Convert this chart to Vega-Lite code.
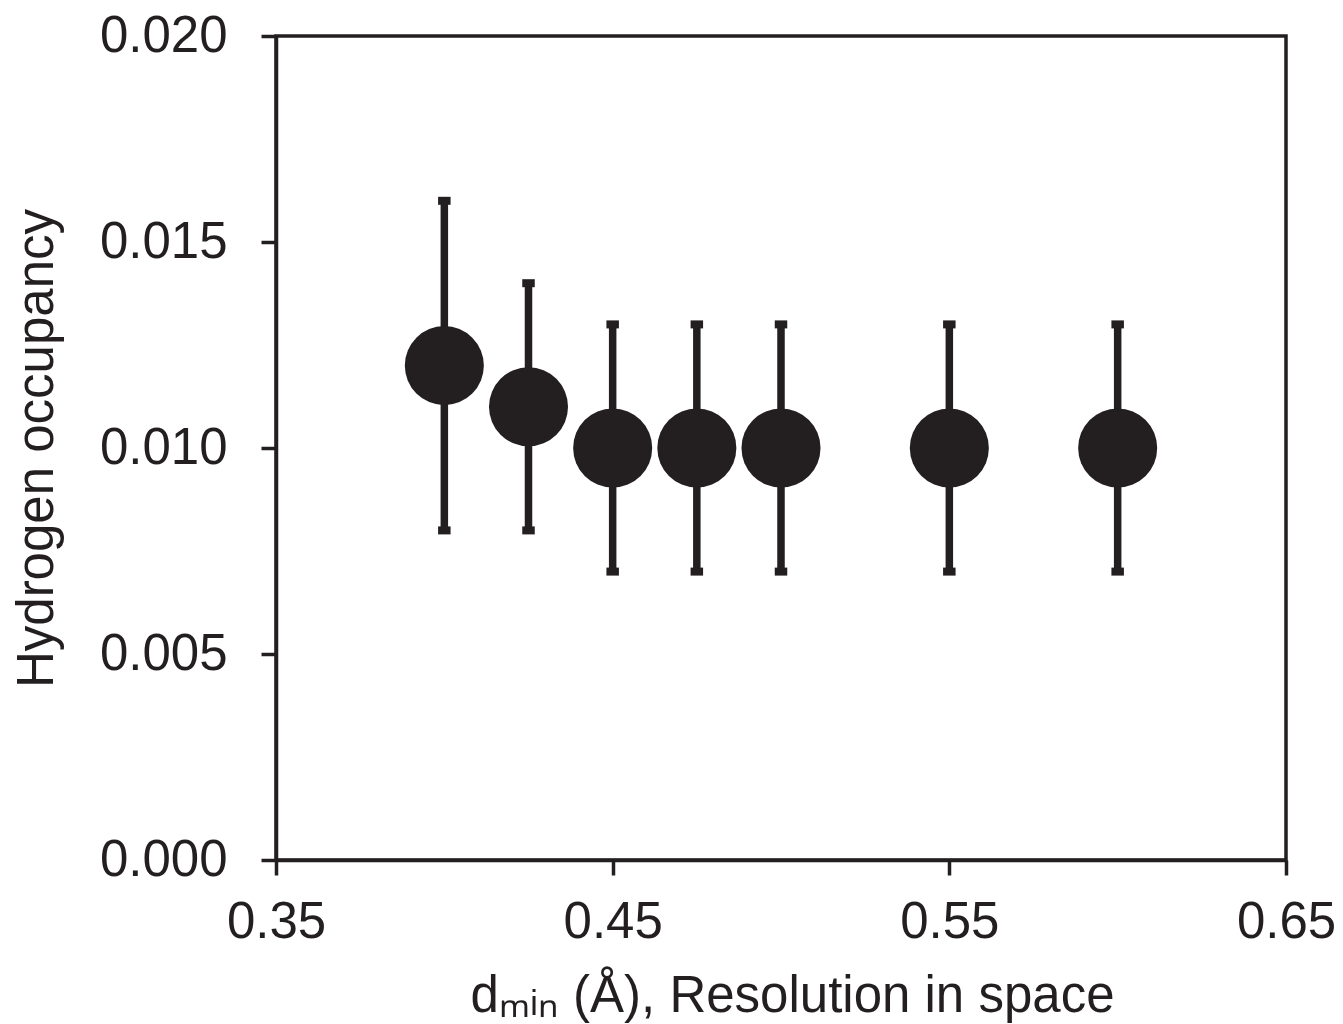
{
  "$schema": "https://vega.github.io/schema/vega-lite/v6.json",
  "autosize": "none",
  "width": 1010,
  "height": 824,
  "padding": {"left": 276, "top": 36, "right": 57, "bottom": 164},
  "background": "white",
  "config": {
    "view": {"stroke": "#231f20", "strokeWidth": 3.5},
    "font": "Liberation Sans",
    "axis": {
      "domainColor": "#231f20",
      "domainWidth": 3.5,
      "tickColor": "#231f20",
      "tickWidth": 3.5,
      "tickSize": 15,
      "grid": false,
      "labelFlush": false,
      "labelOverlap": false,
      "labelFont": "Liberation Sans",
      "labelFontSize": 51,
      "labelColor": "#231f20",
      "titleFont": "Liberation Sans",
      "titleFontSize": 51,
      "titleFontWeight": "normal",
      "titleColor": "#231f20"
    }
  },
  "data": {
    "values": [
      {"d": 0.40, "occ": 0.012, "lo": 0.008, "hi": 0.016},
      {"d": 0.425, "occ": 0.011, "lo": 0.008, "hi": 0.014},
      {"d": 0.45, "occ": 0.010, "lo": 0.007, "hi": 0.013},
      {"d": 0.475, "occ": 0.010, "lo": 0.007, "hi": 0.013},
      {"d": 0.50, "occ": 0.010, "lo": 0.007, "hi": 0.013},
      {"d": 0.55, "occ": 0.010, "lo": 0.007, "hi": 0.013},
      {"d": 0.60, "occ": 0.010, "lo": 0.007, "hi": 0.013}
    ]
  },
  "layer": [
    {
      "mark": {"type": "rule", "color": "#231f20", "strokeWidth": 7.5},
      "encoding": {
        "x": {
          "field": "d", "type": "quantitative",
          "scale": {"domain": [0.35, 0.65], "nice": false, "zero": false},
          "axis": {
            "values": [0.35, 0.45, 0.55, 0.65],
            "format": ".2f",
            "labelPadding": 22,
            "title": "dₘᵢₙ (Å), Resolution in space",
            "titlePadding": 24,
            "titleX": 516
          }
        },
        "y": {
          "field": "lo", "type": "quantitative",
          "scale": {"domain": [0, 0.02], "nice": false, "zero": true},
          "axis": {
            "values": [0, 0.005, 0.01, 0.015, 0.02],
            "format": ".3f",
            "labelPadding": 34,
            "title": "Hydrogen occupancy",
            "titlePadding": 36
          }
        },
        "y2": {"field": "hi"}
      }
    },
    {
      "mark": {"type": "tick", "color": "#231f20", "opacity": 1, "orient": "horizontal", "size": 12.5, "thickness": 8},
      "encoding": {
        "x": {"field": "d", "type": "quantitative"},
        "y": {"field": "lo", "type": "quantitative"}
      }
    },
    {
      "mark": {"type": "tick", "color": "#231f20", "opacity": 1, "orient": "horizontal", "size": 12.5, "thickness": 8},
      "encoding": {
        "x": {"field": "d", "type": "quantitative"},
        "y": {"field": "hi", "type": "quantitative"}
      }
    },
    {
      "mark": {"type": "circle", "color": "#231f20", "opacity": 1, "size": 6250},
      "encoding": {
        "x": {"field": "d", "type": "quantitative"},
        "y": {"field": "occ", "type": "quantitative"}
      }
    }
  ]
}
